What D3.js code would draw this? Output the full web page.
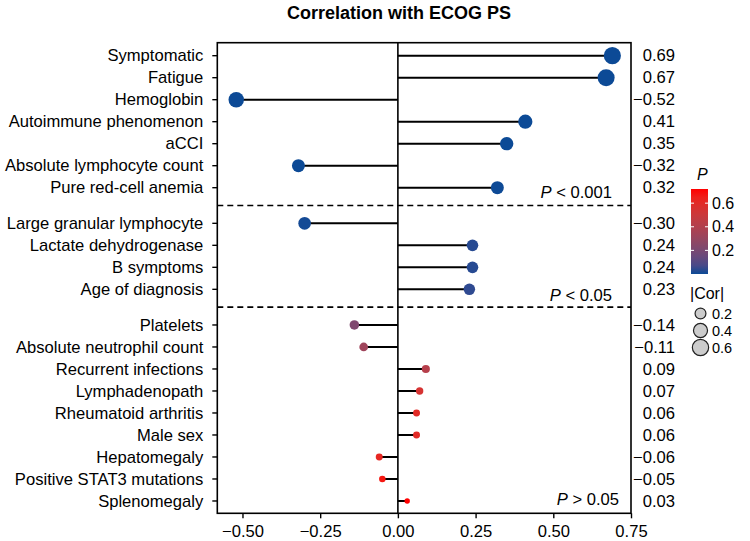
<!DOCTYPE html>
<html>
<head>
<meta charset="utf-8">
<script src="https://cdn.jsdelivr.net/npm/d3@7/dist/d3.min.js"></script>
<style>
  html, body { margin: 0; padding: 0; background: #fff; }
  svg { display: block; font-family: "Liberation Sans", Arial, sans-serif; }
</style>
</head>
<body>
<svg id="chart" width="750" height="541"></svg>
<script>
// ---- data ----
const categories = [
  "Symptomatic", "Fatigue", "Hemoglobin", "Autoimmune phenomenon", "aCCI",
  "Absolute lymphocyte count", "Pure red-cell anemia",
  "Large granular lymphocyte", "Lactate dehydrogenase", "B symptoms", "Age of diagnosis",
  "Platelets", "Absolute neutrophil count", "Recurrent infections", "Lymphadenopath",
  "Rheumatoid arthritis", "Male sex", "Hepatomegaly", "Positive STAT3 mutations", "Splenomegaly"
];
const corValues = [0.69, 0.67, -0.52, 0.41, 0.35, -0.32, 0.32,
  -0.30, 0.24, 0.24, 0.23,
  -0.14, -0.11, 0.09, 0.07, 0.06, 0.06, -0.06, -0.05, 0.03];
const pValues = [0.000, 0.000, 0.000, 0.000, 0.000, 0.000, 0.001,
  0.004, 0.02, 0.02, 0.03,
  0.22, 0.33, 0.42, 0.55, 0.60, 0.60, 0.62, 0.68, 0.74];
const groups = [0, 0, 0, 0, 0, 0, 0, 1, 1, 1, 1, 2, 2, 2, 2, 2, 2, 2, 2, 2];
const groupLabels = ["< 0.001", "< 0.05", "> 0.05"];
const xTicks = [-0.50, -0.25, 0.00, 0.25, 0.50, 0.75];
const pTicks = [0.2, 0.4, 0.6];
const sizeTicks = [0.2, 0.4, 0.6];

// ---- layout ----
const svg = d3.select("#chart");
const panel = { left: 217.3, right: 631, top: 42.7, bottom: 513.3 };
const gapSize = 0.62;
const pos = categories.map((c, i) => i + groups[i] * gapSize);
const FS = "16.6px";
const LFS = "14.5px";

const x = d3.scaleLinear().domain([-0.581, 0.75]).range([panel.left, panel.right]);
const y = d3.scaleLinear().domain([-0.59, 20.8]).range([panel.top, panel.bottom]);
const color = d3.scaleLinear().domain([0, 0.72]).range(["#0c4a96", "#ff0000"])
  .interpolate(d3.interpolateLab);
const rScale = d3.scalePow().exponent(0.37).domain([0, 0.69]).range([0, 8.6]);
const radius = v => rScale(Math.abs(v));

const data = categories.map((c, i) => ({ name: c, r: corValues[i], p: pValues[i], g: groups[i], pos: pos[i] }));

// title
svg.append("text").attr("x", 399).attr("y", 18.5).attr("text-anchor", "middle")
  .style("font-size", "18px").style("font-weight", "bold").text("Correlation with ECOG PS");

// dashed separators
const sepPos = [];
for (let i = 1; i < data.length; i++) {
  if (data[i].g !== data[i - 1].g) sepPos.push((data[i].pos + data[i - 1].pos) / 2);
}
svg.selectAll(".sep").data(sepPos).join("line")
  .attr("x1", panel.left).attr("x2", panel.right)
  .attr("y1", d => y(d)).attr("y2", d => y(d))
  .attr("stroke", "#000").attr("stroke-width", 1.6).attr("stroke-dasharray", "6,4");

// zero line
svg.append("line").attr("x1", x(0)).attr("x2", x(0))
  .attr("y1", panel.top).attr("y2", panel.bottom)
  .attr("stroke", "#000").attr("stroke-width", 1.6);

// stems
svg.selectAll(".stem").data(data).join("line")
  .attr("x1", x(0)).attr("x2", d => x(d.r))
  .attr("y1", d => y(d.pos)).attr("y2", d => y(d.pos))
  .attr("stroke", "#000").attr("stroke-width", 2);

// dots
svg.selectAll(".dot").data(data).join("circle")
  .attr("cx", d => x(d.r)).attr("cy", d => y(d.pos))
  .attr("r", d => radius(d.r)).attr("fill", d => color(d.p));

// panel border
svg.append("rect").attr("x", panel.left).attr("y", panel.top)
  .attr("width", panel.right - panel.left).attr("height", panel.bottom - panel.top)
  .attr("fill", "none").attr("stroke", "#000").attr("stroke-width", 1.6);

// y axis (categories)
const yAxisG = svg.append("g");
data.forEach(d => {
  yAxisG.append("line").attr("x1", panel.left - 5).attr("x2", panel.left)
    .attr("y1", y(d.pos)).attr("y2", y(d.pos)).attr("stroke", "#000").attr("stroke-width", 1.4);
  yAxisG.append("text").attr("x", panel.left - 14).attr("y", y(d.pos))
    .attr("dy", "0.35em").attr("text-anchor", "end")
    .style("font-size", FS).attr("fill", "#000").text(d.name);
});

// x axis
const xAxis = d3.axisBottom(x).tickValues(xTicks).tickFormat(d3.format(".2f")).tickSize(5).tickPadding(7);
const xg = svg.append("g").attr("transform", `translate(0,${panel.bottom})`).call(xAxis);
xg.select(".domain").remove();
xg.selectAll(".tick line").attr("stroke", "#000").attr("stroke-width", 1.4);
xg.selectAll(".tick text").style("font-size", FS).attr("fill", "#000")
  .style("font-family", "'Liberation Sans', Arial, sans-serif");

// value labels on the right
svg.selectAll(".val").data(data).join("text")
  .attr("x", 675).attr("y", d => y(d.pos)).attr("dy", "0.35em")
  .attr("text-anchor", "end").style("font-size", FS)
  .text(d => d3.format(".2f")(d.r));

// P annotations
const annotY = [198, 300.5, 505];
const annotX = [612, 612, 619];
groupLabels.forEach((lab, i) => {
  const t = svg.append("text").attr("x", annotX[i]).attr("y", annotY[i])
    .attr("text-anchor", "end").style("font-size", FS);
  t.append("tspan").style("font-style", "italic").text("P");
  t.append("tspan").text(" " + lab);
});

// colorbar legend
const cb = { x: 691, y: 189, w: 17, h: 85 };
const pY = d3.scaleLinear().domain([0, 0.72]).range([cb.y + cb.h, cb.y]);
const defs = svg.append("defs");
const grad = defs.append("linearGradient").attr("id", "pgrad")
  .attr("x1", 0).attr("y1", 1).attr("x2", 0).attr("y2", 0);
d3.range(0, 1.0001, 0.1).forEach(t => {
  grad.append("stop").attr("offset", t).attr("stop-color", color(t * 0.72));
});
svg.append("text").attr("x", 697).attr("y", 180).style("font-size", "16px")
  .style("font-style", "italic").text("P");
svg.append("rect").attr("x", cb.x).attr("y", cb.y).attr("width", cb.w).attr("height", cb.h)
  .attr("fill", "url(#pgrad)");
pTicks.forEach(v => {
  svg.append("line").attr("x1", cb.x).attr("x2", cb.x + 3).attr("y1", pY(v)).attr("y2", pY(v))
    .attr("stroke", "#fff").attr("stroke-width", 1);
  svg.append("line").attr("x1", cb.x + cb.w - 3).attr("x2", cb.x + cb.w).attr("y1", pY(v)).attr("y2", pY(v))
    .attr("stroke", "#fff").attr("stroke-width", 1);
  svg.append("text").attr("x", 712).attr("y", pY(v)).attr("dy", "0.35em")
    .style("font-size", "16px").text(v.toFixed(1));
});

// size legend
svg.append("text").attr("x", 690).attr("y", 299).style("font-size", "16px").text("|Cor|");
const sizeY = [313.5, 330.5, 347.5];
sizeTicks.forEach((v, i) => {
  svg.append("circle").attr("cx", 700.5).attr("cy", sizeY[i]).attr("r", radius(v))
    .attr("fill", "#cccccc").attr("stroke", "#222").attr("stroke-width", 1.2);
  svg.append("text").attr("x", 712).attr("y", sizeY[i]).attr("dy", "0.35em")
    .style("font-size", LFS).text(v.toFixed(1));
});
</script>
</body>
</html>
